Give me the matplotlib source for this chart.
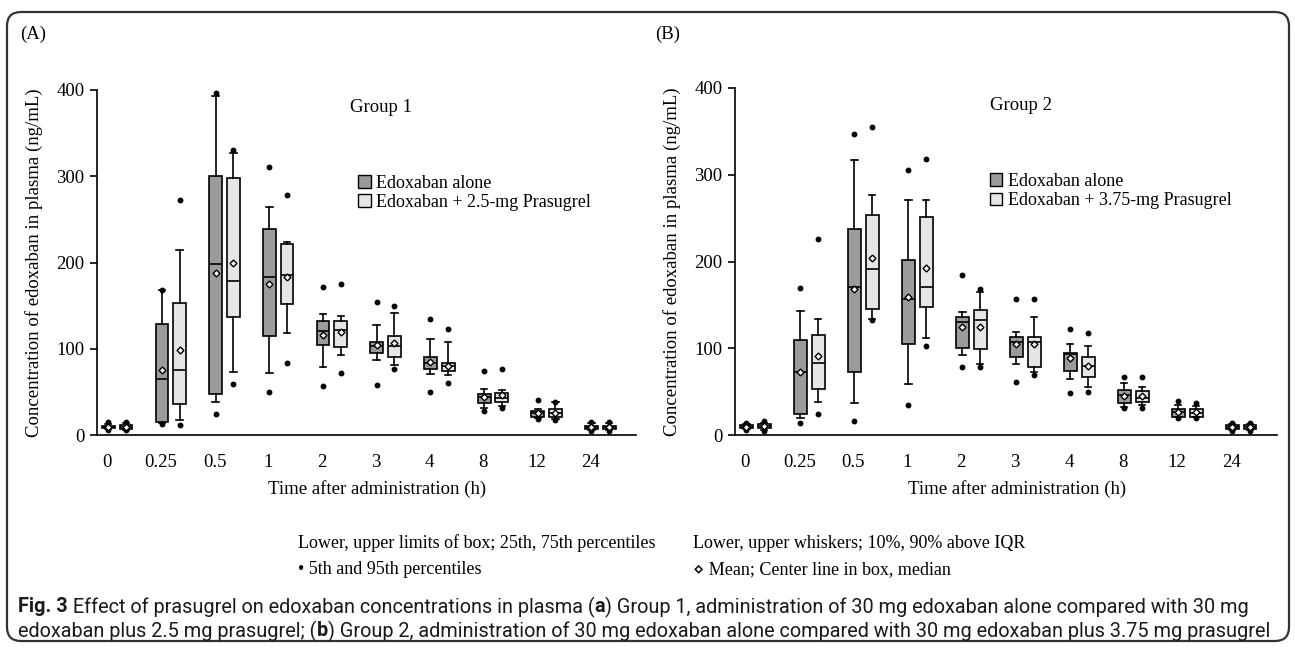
import matplotlib
matplotlib.use('Agg')
import matplotlib.pyplot as plt
from matplotlib.patches import Patch, FancyBboxPatch

# time points (h)
times = ['0', '0.25', '0.5', '1', '2', '3', '4', '8', '12', '24']

# Group 1 -- edoxaban alone
a_alone_q1 = [8, 15.5, 48, 115, 104, 95.5, 77, 36.7, 21.3, 7.5]
a_alone_med = [9.5, 65, 198, 183, 121, 103.6, 83, 43.7, 25, 9]
a_alone_q3 = [11, 128.7, 300.7, 238.5, 132.6, 107.4, 90, 47.5, 28.2, 11]
a_alone_lo = [6.5, 14, 38, 71.5, 79, 87, 70.7, 31, 19.3, 6]
a_alone_hi = [13, 168, 393, 264, 140, 128, 111, 53, 29.8, 13.5]
a_alone_mean = [9.5, 75, 188, 175, 116, 104, 85, 44.4, 25, 9]
a_alone_p5 = [5.5, 13, 24, 50, 56.8, 57.6, 49.5, 27.8, 18, 5]
a_alone_p95 = [15.5, 168, 397, 311, 172, 153.8, 134.5, 74, 41, 15.5]

# Group 1 -- edoxaban + 2.5 mg prasugrel
a_pras_q1 = [7.5, 36, 137, 151.5, 102, 90.8, 74.6, 38.7, 20.5, 7.5]
a_pras_med = [9.5, 75.4, 178.5, 186, 121.7, 103, 80, 43.3, 25, 9]
a_pras_q3 = [12, 152.7, 298, 221, 132.6, 115, 84, 48.3, 30, 10.5]
a_pras_lo = [6, 17, 73, 118, 93, 81, 70, 34, 18, 6]
a_pras_hi = [13.5, 214.5, 327, 224, 138, 142, 108, 52, 38.6, 13.5]
a_pras_mean = [9.5, 99, 200, 183, 119, 106.7, 80.4, 46, 26, 9]
a_pras_p5 = [5.5, 11.6, 59, 83.5, 71.5, 77, 60.7, 31, 17, 5]
a_pras_p95 = [15.5, 272, 331, 278, 174.7, 150, 122.5, 76, 38.6, 15.5]

# Group 2 -- edoxaban alone
b_alone_q1 = [8, 23.8, 72.3, 105, 100.8, 90.4, 73.8, 36.5, 21, 7]
b_alone_med = [9.5, 72.3, 170.4, 157.3, 130, 107.7, 93.5, 46, 26, 9.5]
b_alone_q3 = [11.5, 109.6, 237.3, 202, 136.5, 112.7, 95, 52, 29.6, 11.5]
b_alone_lo = [6.5, 19.2, 36.5, 58.8, 92, 81.5, 64.6, 32, 20.4, 6]
b_alone_hi = [12.5, 143.5, 316.5, 271, 142, 118.5, 105, 60.4, 34.6, 13]
b_alone_mean = [9.5, 73, 168, 159.6, 124, 104.6, 88.5, 45.4, 26, 9.5]
b_alone_p5 = [6, 13.5, 16.2, 34.2, 78, 60.8, 48, 30.8, 19.2, 5]
b_alone_p95 = [14, 170, 347, 305.8, 184.6, 157, 122, 67.3, 39.6, 14]

# Group 2 -- edoxaban + 3.75 mg prasugrel
b_pras_q1 = [8, 52.7, 145.4, 147, 98.8, 78, 66.5, 37.7, 21, 7]
b_pras_med = [10, 83.5, 191.5, 171, 132, 107.7, 79.6, 42.3, 25, 9.5]
b_pras_q3 = [13, 115.4, 253.8, 251.5, 144, 112.7, 90.4, 51, 29.6, 11.5]
b_pras_lo = [6, 38.5, 133.5, 111.5, 82, 73, 55.8, 34.6, 20.4, 6]
b_pras_hi = [14, 134, 277, 271, 164.6, 136.5, 103, 55, 33.8, 13]
b_pras_mean = [10, 91, 203.8, 192, 125, 104.6, 79.6, 45.4, 26, 9.5]
b_pras_p5 = [5, 24.2, 132.7, 102.7, 78.8, 69, 49.2, 31.5, 19.2, 5]
b_pras_p95 = [16.5, 225.8, 354.6, 318.5, 168.5, 157, 117.3, 67.3, 37.3, 14]

DARK = '#9b9b9b'
LIGHT = '#e6e6e6'
SERIF = ['Liberation Serif', 'DejaVu Serif']
plt.rcParams['font.family'] = SERIF
FS = 13.5


def make_stats(q1, med, q3, lo, hi, mean, p5, p95):
    stats = []
    for i in range(len(q1)):
        stats.append({'q1': q1[i], 'med': med[i], 'q3': q3[i],
                      'whislo': lo[i], 'whishi': hi[i], 'mean': mean[i],
                      'fliers': [p5[i], p95[i]]})
    return stats


def draw_boxes(ax, stats, pos, color):
    ax.bxp(stats, positions=pos, widths=0.24, capwidths=0.12,
           patch_artist=True, showmeans=True, manage_ticks=False,
           boxprops=dict(facecolor=color, edgecolor='black', linewidth=1.2),
           medianprops=dict(color='black', linewidth=1.2),
           whiskerprops=dict(color='black', linewidth=1.2),
           capprops=dict(color='black', linewidth=1.2),
           meanprops=dict(marker='D', markersize=3.5, markerfacecolor='white',
                          markeredgecolor='black', markeredgewidth=1.0),
           flierprops=dict(marker='o', markersize=3.2, markerfacecolor='black',
                           markeredgecolor='black', linestyle='none'))


def panel(ax, alone, pras, group, pras_label, leg_xy):
    x = list(range(len(times)))
    draw_boxes(ax, alone, [i + 0.02 for i in x], DARK)
    draw_boxes(ax, pras, [i + 0.35 for i in x], LIGHT)
    ax.set_xlim(-0.19, 9.85)
    ax.set_ylim(0, 400)
    ax.set_yticks([0, 100, 200, 300, 400])
    ax.set_xticks(x)
    ax.set_xticklabels(times)
    ax.tick_params(axis='x', length=0, pad=14, labelsize=FS)
    ax.tick_params(axis='y', direction='out', length=5, width=1.2, pad=4, labelsize=FS)
    for s in ['top', 'right']:
        ax.spines[s].set_visible(False)
    for s in ['left', 'bottom']:
        ax.spines[s].set_linewidth(1.2)
    ax.set_ylabel('Concentration of edoxaban in plasma (ng/mL)', fontsize=FS)
    ax.yaxis.set_label_coords(-0.1, 0.5)
    ax.set_xlabel('Time after administration (h)', fontsize=FS)
    ax.xaxis.set_label_coords(0.52, -0.13)
    ax.text(0.47, 0.95, group, transform=ax.transAxes, fontsize=FS, va='center')
    handles = [Patch(facecolor=DARK, edgecolor='black', linewidth=1.0),
               Patch(facecolor=LIGHT, edgecolor='black', linewidth=1.0)]
    ax.legend(handles, ['Edoxaban alone', pras_label], loc='upper left',
              bbox_to_anchor=leg_xy, frameon=False, fontsize=13,
              handlelength=0.7, handleheight=0.7, handletextpad=0.3,
              labelspacing=0.12, borderaxespad=0, borderpad=0)


fig = plt.figure(figsize=(12.95, 6.49), dpi=100)
W, H = 1295, 649

ax_a = fig.add_axes([97 / W, 1 - 435 / H, 539 / W, 345 / H])
panel(ax_a,
      make_stats(a_alone_q1, a_alone_med, a_alone_q3, a_alone_lo, a_alone_hi,
                 a_alone_mean, a_alone_p5, a_alone_p95),
      make_stats(a_pras_q1, a_pras_med, a_pras_q3, a_pras_lo, a_pras_hi,
                 a_pras_mean, a_pras_p5, a_pras_p95),
      'Group 1', 'Edoxaban + 2.5-mg Prasugrel', (0.485, 0.755))

ax_b = fig.add_axes([735 / W, 1 - 435 / H, 542 / W, 347 / H])
panel(ax_b,
      make_stats(b_alone_q1, b_alone_med, b_alone_q3, b_alone_lo, b_alone_hi,
                 b_alone_mean, b_alone_p5, b_alone_p95),
      make_stats(b_pras_q1, b_pras_med, b_pras_q3, b_pras_lo, b_pras_hi,
                 b_pras_mean, b_pras_p5, b_pras_p95),
      'Group 2', 'Edoxaban + 3.75-mg Prasugrel', (0.47, 0.755))

fig.text(20 / W, 1 - 34 / H, '(A)', fontsize=FS, va='center')
fig.text(655 / W, 1 - 34 / H, '(B)', fontsize=FS, va='center')

# key
fig.text(298 / W, 1 - 543 / H, 'Lower, upper limits of box; 25th, 75th percentiles',
         fontsize=FS - 0.5, va='center')
fig.text(298 / W, 1 - 570 / H, '\u2022 5th and 95th percentiles', fontsize=FS - 0.5, va='center')
fig.text(693 / W, 1 - 543 / H, 'Lower, upper whiskers; 10%, 90% above IQR',
         fontsize=FS - 0.5, va='center')
fig.text(693 / W, 1 - 570 / H, '\u22c4 Mean; Center line in box, median',
         fontsize=FS - 0.5, va='center')

# caption, pieced together so bold parts sit inline
CAP = ['Roboto', 'DejaVu Sans']
line1 = [('Fig. 3', 'bold'), (' Effect of prasugrel on edoxaban concentrations in plasma (', 'normal'),
         ('a', 'bold'), (') Group 1, administration of 30 mg edoxaban alone compared with 30 mg', 'normal')]
line2 = [('edoxaban plus 2.5 mg prasugrel; (', 'normal'), ('b', 'bold'),
         (') Group 2, administration of 30 mg edoxaban alone compared with 30 mg edoxaban plus 3.75 mg prasugrel', 'normal')]
renderer = fig.canvas.get_renderer()

# size the caption so the second line spans the frame like the reference
probe = fig.text(0, 0, ''.join(t for t, _ in line2), fontsize=10, family=CAP)
cfs = 10 * 1255 / probe.get_window_extent(renderer).width
probe.remove()

for line, yy in [(line1, 607), (line2, 631)]:
    xx = 18
    for txt, wt in line:
        t = fig.text(xx / W, 1 - yy / H, txt, fontsize=cfs, fontweight=wt,
                     family=CAP, va='center', color='#1a1a1a')
        xx += t.get_window_extent(renderer).width

frame = FancyBboxPatch((7, 8), 1282, 629, boxstyle='round,pad=0,rounding_size=14',
                       transform=None, facecolor='none', edgecolor='#333333', linewidth=1.6)
fig.patches.append(frame)

fig.savefig('out.png', dpi=100)
